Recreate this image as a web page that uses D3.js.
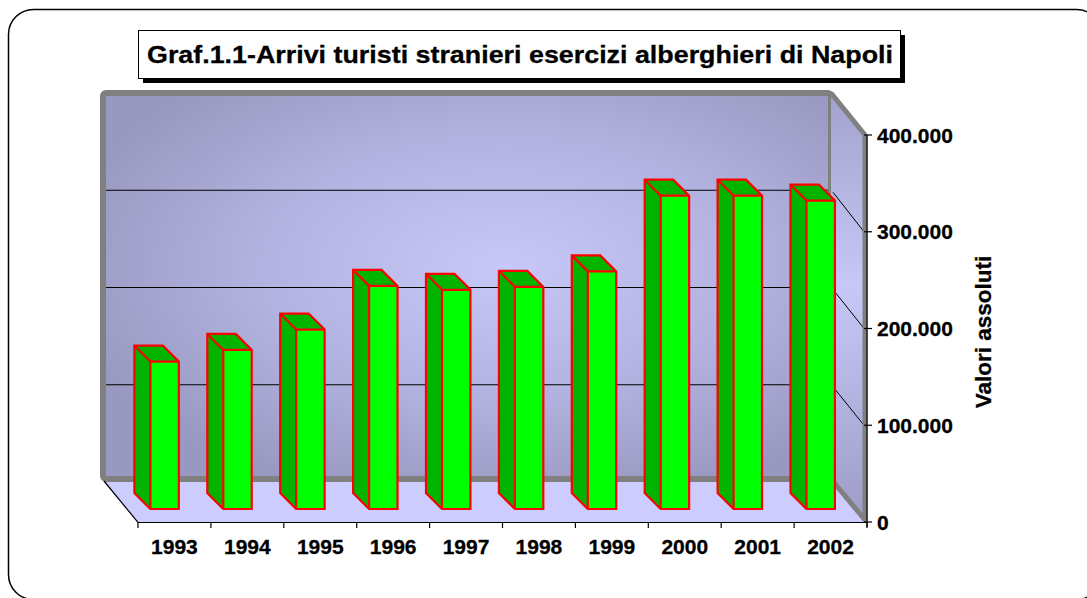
<!DOCTYPE html>
<html>
<head>
<meta charset="utf-8">
<script src="https://cdn.jsdelivr.net/npm/d3@7"></script>
<style>
  html, body { margin: 0; padding: 0; background: #fff; }
  svg { display: block; }
  text { font-family: "Liberation Sans", Arial, sans-serif; font-weight: bold; stroke: #000; stroke-width: 0.3px; }
</style>
</head>
<body>
<svg id="chart"></svg>
<script>
const titleText = 'Graf.1.1-Arrivi turisti stranieri esercizi alberghieri di Napoli';
const axisTitle = 'Valori assoluti';
const years = ['1993', '1994', '1995', '1996', '1997', '1998', '1999', '2000', '2001', '2002'];
const arrivals = [152000, 164000, 185000, 230000, 226000, 229000, 245000, 323000, 323000, 318000];
const valueTicks = [0, 100000, 200000, 300000, 400000];
const gridValues = [100000, 200000, 300000];

const width = 1087;
const height = 598;

// 3d box: back wall and front plane
const back = { left: 103, right: 831, top: 93, bottom: 481 };
const front = { left: 138, right: 867, top: 135, bottom: 522 };
const barDepth = 16;
const barBase = 509;

const it = d3.formatLocale({ decimal: ',', thousands: '.', grouping: [3], currency: ['€', ''] });
const fmt = it.format(',');

const svg = d3.select('#chart').attr('width', width).attr('height', height);

const defs = svg.append('defs');
const wallGrad = defs.append('radialGradient').attr('id', 'wallGrad')
    .attr('cx', '0.55').attr('cy', '0.45').attr('r', '0.62');
wallGrad.append('stop').attr('offset', '0').attr('stop-color', '#c8c8f8');
wallGrad.append('stop').attr('offset', '0.55').attr('stop-color', '#b2b2e0');
wallGrad.append('stop').attr('offset', '1').attr('stop-color', '#9898c0');

const sideGrad = defs.append('linearGradient').attr('id', 'sideGrad')
    .attr('x1', 0).attr('y1', 0).attr('x2', 0).attr('y2', 1);
sideGrad.append('stop').attr('offset', '0').attr('stop-color', '#a2a2cc');
sideGrad.append('stop').attr('offset', '0.45').attr('stop-color', '#c8c8f8');
sideGrad.append('stop').attr('offset', '1').attr('stop-color', '#9c9cc6');

// outer rounded frame
svg.append('rect')
    .attr('x', 8.5).attr('y', 9.5)
    .attr('width', 1093).attr('height', 590)
    .attr('rx', 25)
    .attr('fill', '#fff')
    .attr('stroke', '#000')
    .attr('stroke-width', 1.5);

// scales
const yBack = d3.scaleLinear().domain([0, 400000]).range([back.bottom + 1, back.top]);
const yFront = d3.scaleLinear().domain([0, 400000]).range([front.bottom, front.top]);
const yBar = d3.scaleLinear().domain([0, 400000]).range([barBase, barBase - 388]);
const x = d3.scaleBand().domain(years).range([front.left, front.right]);

// floor
svg.append('polygon')
    .attr('points', [[back.left, back.bottom], [back.right + 4, back.bottom], [front.right, front.bottom], [front.left, front.bottom]].join(' '))
    .attr('fill', '#ccccff');

// back wall
svg.append('rect')
    .attr('x', back.left).attr('y', back.top)
    .attr('width', back.right - back.left).attr('height', back.bottom - back.top - 2)
    .attr('rx', 3)
    .attr('fill', 'url(#wallGrad)')
    .attr('stroke', '#808080')
    .attr('stroke-width', 6);

svg.append('g').selectAll('line').data(gridValues).enter()
    .append('line')
    .attr('x1', back.left + 3).attr('x2', back.right - 3)
    .attr('y1', d => yBack(d)).attr('y2', d => yBack(d))
    .attr('stroke', '#000').attr('stroke-width', 1.2);

// side wall
const side = svg.append('g');
side.append('polygon')
    .attr('points', [[back.right, back.top], [front.right - 2, front.top], [front.right - 2, front.bottom], [back.right, back.bottom - 2]].join(' '))
    .attr('fill', 'url(#sideGrad)');
side.selectAll('line.grid').data(gridValues).enter()
    .append('line')
    .attr('class', 'grid')
    .attr('x1', back.right + 2).attr('x2', front.right - 3)
    .attr('y1', d => yBack(d) + 2).attr('y2', d => yFront(d))
    .attr('stroke', '#000').attr('stroke-width', 1);
side.append('path')
    .attr('d', `M${back.right},${back.top} L${front.right - 2},${front.top} L${front.right - 2},${front.bottom - 2} L${back.right},${back.bottom - 2}`)
    .attr('fill', 'none')
    .attr('stroke', '#808080')
    .attr('stroke-width', 5)
    .attr('stroke-linejoin', 'round');

// floor edges
svg.append('path')
    .attr('d', `M${back.left + 1},${back.bottom} L${front.left},${front.bottom + 0.5} L${front.right},${front.bottom + 0.5}`)
    .attr('fill', 'none')
    .attr('stroke', '#000')
    .attr('stroke-width', 1.2);

// category ticks
const catEdges = years.map(d => x(d)).concat([front.right]);
svg.append('g').selectAll('line').data(catEdges).enter()
    .append('line')
    .attr('x1', d => d).attr('x2', d => d)
    .attr('y1', front.bottom).attr('y2', front.bottom + 6)
    .attr('stroke', '#000').attr('stroke-width', 1.2);

svg.append('g').selectAll('text').data(years).enter()
    .append('text')
    .text(d => d)
    .attr('x', d => x(d) + x.bandwidth() / 2)
    .attr('y', 554)
    .attr('text-anchor', 'middle')
    .attr('font-size', '21px')
    .attr('fill', '#000');

// bars
const faceX = d => x(d) + x.bandwidth() * 0.17;
const faceW = x.bandwidth() * 0.39;
const bars = svg.append('g').selectAll('g').data(years.map((y, i) => ({ year: y, value: arrivals[i] }))).enter()
    .append('g');

bars.append('polygon')
    .attr('points', d => {
        const x0 = faceX(d.year), yt = yBar(d.value);
        return [[x0, barBase], [x0, yt], [x0 - barDepth, yt - barDepth], [x0 - barDepth, barBase - barDepth]].join(' ');
    })
    .attr('fill', '#00b400');
bars.append('polygon')
    .attr('points', d => {
        const x0 = faceX(d.year), x1 = x0 + faceW, yt = yBar(d.value);
        return [[x0, yt], [x1, yt], [x1 - barDepth, yt - barDepth], [x0 - barDepth, yt - barDepth]].join(' ');
    })
    .attr('fill', '#00b400');
bars.append('rect')
    .attr('x', d => faceX(d.year))
    .attr('y', d => yBar(d.value))
    .attr('width', faceW)
    .attr('height', d => barBase - yBar(d.value))
    .attr('fill', '#00ff00');
bars.append('path')
    .attr('d', d => {
        const x0 = faceX(d.year), x1 = x0 + faceW, yt = yBar(d.value);
        return `M${x0},${barBase} L${x1},${barBase} L${x1},${yt} L${x1 - barDepth},${yt - barDepth} L${x0 - barDepth},${yt - barDepth} L${x0 - barDepth},${barBase - barDepth} Z M${x0},${barBase} L${x0},${yt} L${x1},${yt} M${x0},${yt} L${x0 - barDepth},${yt - barDepth}`;
    })
    .attr('fill', 'none')
    .attr('stroke', '#ff0000')
    .attr('stroke-width', 2.2)
    .attr('stroke-linejoin', 'miter');

// value axis on the front right
const axisG = svg.append('g');
axisG.append('line')
    .attr('x1', front.right).attr('x2', front.right)
    .attr('y1', front.top).attr('y2', front.bottom + 5)
    .attr('stroke', '#000').attr('stroke-width', 1.2);
axisG.selectAll('line.tick').data(valueTicks).enter()
    .append('line')
    .attr('class', 'tick')
    .attr('x1', front.right - 3).attr('x2', front.right + 5)
    .attr('y1', d => yFront(d)).attr('y2', d => yFront(d))
    .attr('stroke', '#000').attr('stroke-width', 1.2);
axisG.selectAll('text').data(valueTicks).enter()
    .append('text')
    .text(d => fmt(d))
    .attr('x', front.right + 10)
    .attr('y', d => yFront(d))
    .attr('dy', '0.36em')
    .attr('font-size', '21px')
    .attr('fill', '#000');

svg.append('text')
    .text(axisTitle)
    .attr('transform', 'translate(991,332) rotate(-90)')
    .attr('text-anchor', 'middle')
    .attr('font-size', '22.5px')
    .attr('fill', '#000');

// title box with shadow
svg.append('rect')
    .attr('x', 143).attr('y', 35).attr('width', 762).attr('height', 48)
    .attr('fill', '#000');
svg.append('rect')
    .attr('x', 138.5).attr('y', 30.5).attr('width', 762).attr('height', 48)
    .attr('fill', '#fff').attr('stroke', '#000').attr('stroke-width', 1);
svg.append('text')
    .text(titleText)
    .attr('x', 147)
    .attr('y', 63)
    .attr('font-size', '24px')
    .attr('textLength', 746)
    .attr('lengthAdjust', 'spacingAndGlyphs')
    .attr('fill', '#000');
</script>
</body>
</html>
